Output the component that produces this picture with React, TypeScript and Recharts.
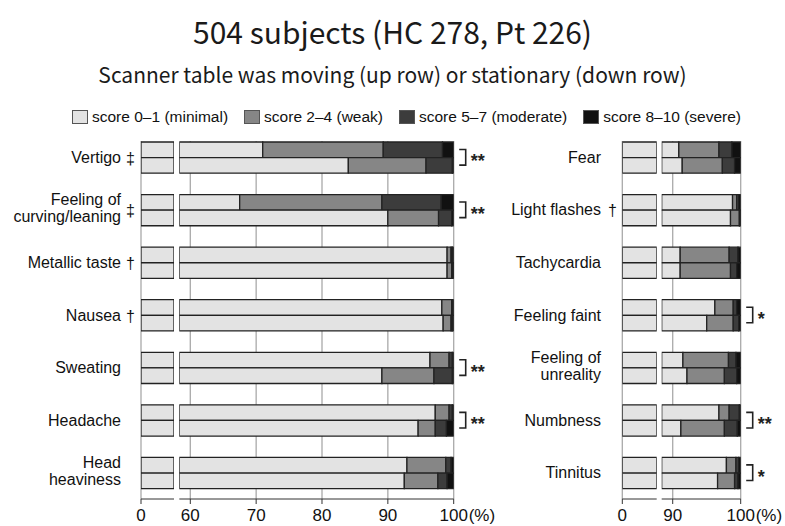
import React from "react"
import { Bar, BarChart, CartesianGrid, Legend, XAxis, YAxis } from "recharts"

const W = 785
const H = 526

const scoreNames = ["score 0–1 (minimal)", "score 2–4 (weak)", "score 5–7 (moderate)", "score 8–10 (severe)"]
const scoreColors = ["#e3e3e3", "#868686", "#3c3c3c", "#111111"]

// left panel (symptoms with large effect)
const leftNames = ["Vertigo", "Feeling of curving/leaning", "Metallic taste", "Nausea", "Sweating", "Headache", "Head heaviness"]
const leftLines = [["Vertigo"], ["Feeling of", "curving/leaning"], ["Metallic taste"], ["Nausea"], ["Sweating"], ["Headache"], ["Head", "heaviness"]]
const leftMarks = ["‡", "‡", "†", "†", "", "", ""]
const leftSig = ["**", "**", "", "", "**", "**", ""]

// moving table (up row)
const leftUpMinimal = [71, 67.5, 99, 98.2, 96.4, 97.2, 92.9]
const leftUpWeak = [18.3, 21.6, 0.6, 1.5, 2.9, 2.1, 5.9]
const leftUpModerate = [9, 9, 0.2, 0.1, 0.5, 0.5, 0.8]
const leftUpSevere = [1.7, 1.9, 0.2, 0.2, 0.2, 0.2, 0.4]
// stationary table (down row)
const leftDownMinimal = [84, 90, 99, 98.4, 89.1, 94.6, 92.5]
const leftDownWeak = [11.8, 7.7, 0.7, 1.2, 7.9, 2.6, 5.1]
const leftDownModerate = [4, 2, 0.2, 0.2, 2.8, 1.7, 1.4]
const leftDownSevere = [0.2, 0.3, 0.1, 0.2, 0.2, 1.1, 1.0]

// right panel
const rightNames = ["Fear", "Light flashes", "Tachycardia", "Feeling faint", "Feeling of unreality", "Numbness", "Tinnitus"]
const rightLines = [["Fear"], ["Light flashes"], ["Tachycardia"], ["Feeling faint"], ["Feeling of", "unreality"], ["Numbness"], ["Tinnitus"]]
const rightMarks = ["", "†", "", "", "", "", ""]
const rightSig = ["", "", "", "*", "", "**", "*"]

const rightUpMinimal = [90.9, 98.8, 91.1, 96.2, 91.5, 96.8, 97.9]
const rightUpWeak = [5.9, 0.6, 7.2, 2.7, 6.7, 1.5, 1.4]
const rightUpModerate = [1.9, 0.3, 1.3, 0.5, 1.1, 1.5, 0.4]
const rightUpSevere = [1.3, 0.3, 0.4, 0.6, 0.7, 0.2, 0.3]
const rightDownMinimal = [91.4, 98.5, 91.1, 95, 92.1, 91.2, 96.6]
const rightDownWeak = [5.9, 1.3, 7.4, 3.9, 5.5, 6.4, 2.5]
const rightDownModerate = [1.8, 0.1, 0.9, 0.8, 1.8, 1.9, 0.5]
const rightDownSevere = [0.9, 0.1, 0.6, 0.3, 0.6, 0.5, 0.4]

const leftMainTicks = [58.33, 60, 70, 80, 90, 100]
const rightMainTicks = [88.38, 90, 100]

const upKeys = ["u0", "u1", "u2", "u3"]
const downKeys = ["d0", "d1", "d2", "d3"]

const buildRows = (names: string[], up: number[][], down: number[][]) =>
  names.map((name, i) => {
    const row: Record<string, any> = { name }
    up.forEach((arr, k) => (row[upKeys[k]] = arr[i]))
    down.forEach((arr, k) => (row[downKeys[k]] = arr[i]))
    return row
  })

const leftRows = buildRows(
  leftNames,
  [leftUpMinimal, leftUpWeak, leftUpModerate, leftUpSevere],
  [leftDownMinimal, leftDownWeak, leftDownModerate, leftDownSevere]
)
const rightRows = buildRows(
  rightNames,
  [rightUpMinimal, rightUpWeak, rightUpModerate, rightUpSevere],
  [rightDownMinimal, rightDownWeak, rightDownModerate, rightDownSevere]
)

const TOP = 131
const AXIS_H = 27
const BAR = 15.6
const FONT = "'Liberation Sans', Arial, Helvetica, sans-serif"

const renderBars = (withLegend: boolean) => [
  ...upKeys.map((k, i) => (
    <Bar
      key={k}
      dataKey={k}
      stackId="up"
      name={scoreNames[i]}
      legendType={withLegend ? "square" : "none"}
      fill={scoreColors[i]}
      stroke="#222"
      strokeWidth={1.3}
      isAnimationActive={false}
    />
  )),
  ...downKeys.map((k, i) => (
    <Bar
      key={k}
      dataKey={k}
      stackId="down"
      name={scoreNames[i]}
      legendType="none"
      fill={scoreColors[i]}
      stroke="#222"
      strokeWidth={1.3}
      isAnimationActive={false}
    />
  )),
]

const ScoreLegend = () => (
  <div style={{ display: "flex", alignItems: "center", whiteSpace: "nowrap", fontFamily: FONT, fontSize: 15.5, color: "#111", lineHeight: "20px" }}>
    {scoreNames.map((n, i) => (
      <div key={n} style={{ display: "flex", alignItems: "center", marginRight: 16 }}>
        <span
          style={{
            display: "inline-block",
            width: 14,
            height: 12,
            background: scoreColors[i],
            border: "1px solid #555",
            marginRight: 4,
          }}
        />
        <span>{n}</span>
      </div>
    ))}
  </div>
)

const makeLabelTick = (names: string[], lines: string[][], marks: string[], right: number, markX: number) => (props: any) => {
  const { y, payload } = props
  const i = names.indexOf(payload.value)
  if (i < 0) return null
  const ls = lines[i]
  const offs = ls.length === 2 ? [-10, 7] : [0]
  return (
    <g>
      {ls.map((t, j) => (
        <text key={t} x={right} y={y + offs[j]} textAnchor="end" dominantBaseline="central" fontSize={16} fontFamily={FONT} fill="#111">
          {t}
        </text>
      ))}
      {marks[i] && (
        <text x={markX} y={y + 1} textAnchor="middle" dominantBaseline="central" fontSize={16} fontFamily={FONT} fill="#111">
          {marks[i]}
        </text>
      )}
    </g>
  )
}

const makeSigTick = (names: string[], sig: string[], plotRight: number) => (props: any) => {
  const { y, payload } = props
  const i = names.indexOf(payload.value)
  if (i < 0 || !sig[i]) return null
  const half = BAR / 2
  return (
    <g>
      <path
        d={`M${plotRight + 5.5},${y - half} H${plotRight + 12} V${y + half} H${plotRight + 5.5}`}
        fill="none"
        stroke="#222"
        strokeWidth={1.6}
      />
      <text x={plotRight + 17} y={y + 10} fontSize={18} fontWeight="bold" fontFamily={FONT} fill="#222">
        {sig[i]}
      </text>
    </g>
  )
}

const makeXTick = (hidden: number) => (props: any) => {
  const { x, y, payload } = props
  const v = payload.value
  if (v === hidden) return null
  return (
    <g>
      <text x={x} y={y + 15} textAnchor="middle" fontSize={17} fontFamily={FONT} fill="#111">
        {v}
      </text>
      {v === 100 && (
        <text x={x + 15} y={y + 15} textAnchor="start" fontSize={17} fontFamily={FONT} fill="#111">
          (%)
        </text>
      )}
    </g>
  )
}

interface PanelProps {
  rows: Record<string, any>[]
  names: string[]
  lines: string[][]
  marks: string[]
  sig: string[]
  stubX0: number
  stubX1: number
  mainX0: number
  mainX1: number
  mainMin: number
  mainTicks: number[]
  labelRight: number
  markX: number
  withLegend?: boolean
}

const layer: React.CSSProperties = { position: "absolute", left: 0, top: 0 }

const Panel = ({ rows, names, lines, marks, sig, stubX0, stubX1, mainX0, mainX1, mainMin, mainTicks, labelRight, markX, withLegend = false }: PanelProps) => {
  const gridTicks = mainTicks.filter((t) => t !== mainMin)
  return (
    <>
      <div style={layer}>
        <BarChart width={W} height={H} data={rows} layout="vertical" barGap={0} barSize={BAR} margin={{ top: TOP, right: W - stubX1, bottom: 0, left: 0 }}>
          <CartesianGrid horizontal={false} verticalValues={[0]} stroke="#a9a9a9" strokeWidth={1.3} y={141} height={358} />
          <XAxis
            type="number"
            domain={[0, 5]}
            allowDataOverflow
            ticks={[0]}
            height={AXIS_H}
            tickSize={5}
            stroke="#333"
            tick={makeXTick(-1)}
          />
          <YAxis
            type="category"
            dataKey="name"
            width={stubX0}
            tickLine={false}
            axisLine={false}
            tick={makeLabelTick(names, lines, marks, labelRight, markX)}
          />
          {renderBars(false)}
        </BarChart>
      </div>
      <div style={layer}>
        <BarChart width={W} height={H} data={rows} layout="vertical" barGap={0} barSize={BAR} margin={{ top: TOP, right: 0, bottom: 0, left: mainX0 }}>
          <CartesianGrid horizontal={false} verticalValues={gridTicks} stroke="#a9a9a9" strokeWidth={1.3} y={141} height={358} />
          <XAxis
            type="number"
            domain={[mainMin, 100]}
            allowDataOverflow
            ticks={mainTicks}
            height={AXIS_H}
            tickSize={5}
            stroke="#333"
            tick={makeXTick(mainMin)}
          />
          <YAxis
            type="category"
            dataKey="name"
            orientation="right"
            width={W - mainX1}
            tickLine={false}
            axisLine={false}
            tick={makeSigTick(names, sig, mainX1)}
          />
          {withLegend && (
            <Legend
              layout="horizontal"
              verticalAlign="middle"
              content={() => <ScoreLegend />}
              wrapperStyle={{ top: 107, left: 72, width: 700, height: 20 }}
            />
          )}
          {renderBars(withLegend)}
        </BarChart>
      </div>
    </>
  )
}

export default function App() {
  return (
    <div style={{ position: "absolute", left: 0, top: 0, width: W, height: H, background: "#fff", overflow: "hidden", fontFamily: FONT }}>
      <div
        style={{
          position: "absolute",
          top: 9,
          left: 0,
          width: W,
          textAlign: "center",
          fontFamily: "'Noto Sans CJK JP', 'Noto Sans', sans-serif",
          fontSize: 30,
          lineHeight: "44px",
          color: "#1a1a1a",
        }}
      >
        504 subjects (HC 278, Pt 226)
      </div>
      <div
        style={{
          position: "absolute",
          top: 60,
          left: 0,
          width: W,
          textAlign: "center",
          fontFamily: "'Noto Sans CJK JP', 'Noto Sans', sans-serif",
          fontSize: 21,
          lineHeight: "28px",
          color: "#1a1a1a",
        }}
      >
        Scanner table was moving (up row) or stationary (down row)
      </div>
      <Panel
        rows={leftRows}
        names={leftNames}
        lines={leftLines}
        marks={leftMarks}
        sig={leftSig}
        stubX0={141}
        stubX1={174}
        mainX0={179.3}
        mainX1={453.7}
        mainMin={58.33}
        mainTicks={leftMainTicks}
        labelRight={121}
        markX={130.5}
        withLegend
      />
      <Panel
        rows={rightRows}
        names={rightNames}
        lines={rightLines}
        marks={rightMarks}
        sig={rightSig}
        stubX0={622.3}
        stubX1={656.7}
        mainX0={661.7}
        mainX1={740.7}
        mainMin={88.38}
        mainTicks={rightMainTicks}
        labelRight={601}
        markX={612.5}
      />
    </div>
  )
}
